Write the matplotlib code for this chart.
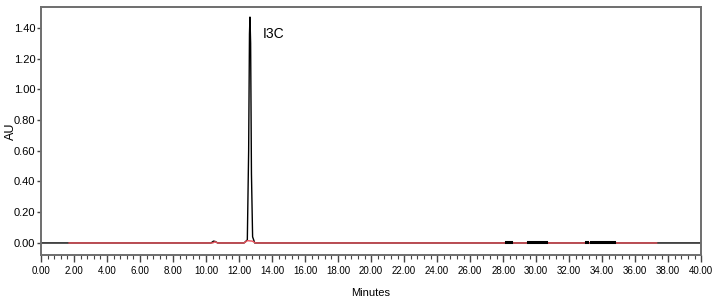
import matplotlib
matplotlib.use("Agg")
import matplotlib.pyplot as plt
from matplotlib.ticker import MultipleLocator, FormatStrFormatter

# chromatogram trace (minutes, AU)
time_black = [0.0, 10.30, 10.45, 10.55, 10.70, 12.30, 12.50, 12.58, 12.63, 12.66,
              12.70, 12.75, 12.82, 12.95, 40.0]
au_black = [0.0, 0.0, 0.012, 0.010, 0.0, 0.0, 0.02, 0.60, 1.36, 1.47,
            1.30, 0.45, 0.04, 0.0, 0.0]

# red baseline trace
time_red = [1.70, 10.40, 10.55, 10.70, 12.30, 12.50, 12.80, 13.00, 37.30]
au_red = [0.0, 0.0, 0.008, 0.0, 0.0, 0.015, 0.012, 0.0, 0.0]

# small baseline blips (start, end) in minutes
blips = [(28.2, 28.5), (29.5, 30.6), (33.0, 33.1), (33.3, 34.7)]

peak_name = "I3C"
peak_time = 12.66

fig = plt.figure(figsize=(7.16, 3.01), dpi=100)
ax = fig.add_axes([0.0573, 0.153, 0.922, 0.824])

ax.plot(time_black, au_black, color="black", lw=1.0, zorder=2)
ax.plot(time_red, au_red, color="#e8505a", lw=1.0, zorder=3)
for t0, t1 in blips:
    ax.plot([t0, t1], [0.004, 0.004], color="black", lw=2.2, zorder=4)

ax.text(peak_time + 0.75, 1.36, peak_name, fontsize=10, family="Liberation Sans",
        va="center", ha="left")

ax.set_xlim(0, 40)
ax.set_ylim(-0.078, 1.536)
ax.xaxis.set_major_locator(MultipleLocator(2))
ax.xaxis.set_minor_locator(MultipleLocator(0.4))
ax.yaxis.set_major_locator(MultipleLocator(0.2))
ax.xaxis.set_major_formatter(FormatStrFormatter("%.2f"))
ax.yaxis.set_major_formatter(FormatStrFormatter("%.2f"))

for lab in ax.get_xticklabels():
    lab.set_family("Liberation Sans")
    lab.set_fontsize(7)
for lab in ax.get_yticklabels():
    lab.set_family("Liberation Sans")
    lab.set_fontsize(8)

ax.tick_params(axis="x", which="major", length=5, width=1, color="#444444", pad=3)
ax.tick_params(axis="x", which="minor", length=3, width=0.8, color="#444444")
ax.tick_params(axis="y", length=3, width=1, color="#444444", pad=1)

for sp in ax.spines.values():
    sp.set_color("#6e6e6e")
    sp.set_linewidth(1.4)

ax.set_xlabel("Minutes", fontsize=8, family="Liberation Sans")
ax.xaxis.set_label_coords(0.5, -0.135)
ax.set_ylabel("AU", fontsize=9, family="Liberation Sans")
ax.yaxis.set_label_coords(-0.036, 0.5)

fig.savefig("out.png", dpi=100)
